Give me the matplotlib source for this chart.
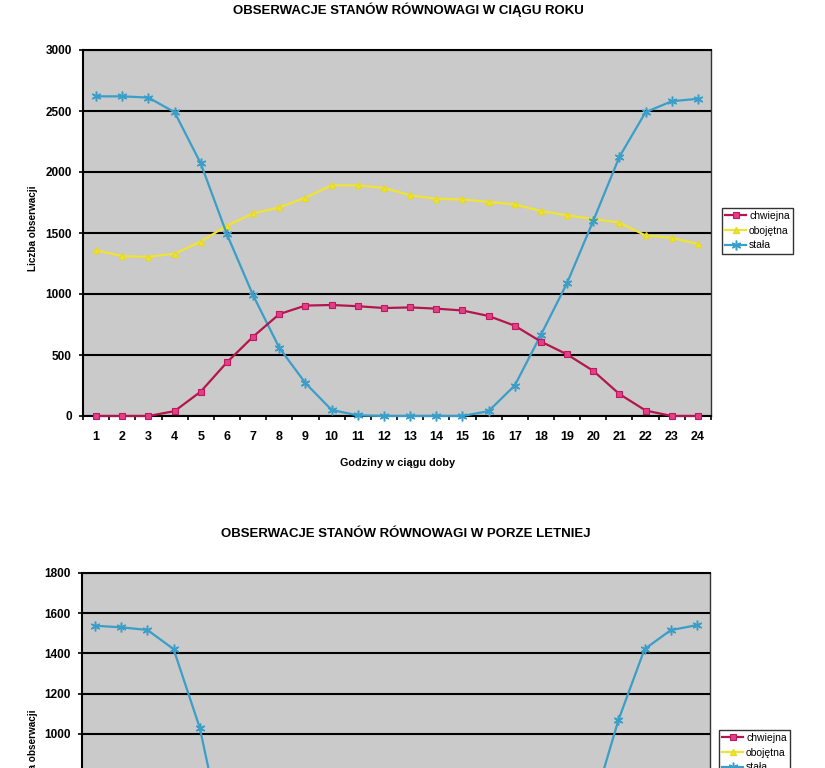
import matplotlib
matplotlib.use('Agg')
import matplotlib.pyplot as plt
import numpy as np

plt.rcParams['font.family'] = ['Liberation Sans', 'DejaVu Sans']

hours = list(range(1, 25))
hour_labels = [str(h) for h in hours]
series_names = ['chwiejna', 'obojętna', 'stała']

title_year = 'OBSERWACJE STANÓW RÓWNOWAGI W CIĄGU ROKU'
title_summer = 'OBSERWACJE STANÓW RÓWNOWAGI W PORZE LETNIEJ'
xlabel_text = 'Godziny w ciągu doby'
ylabel_text = 'Liczba obserwacji'

year_chwiejna = [0, 0, 0, 40, 200, 440, 650, 835, 905, 910, 900, 885,
                 890, 880, 865, 820, 740, 610, 505, 370, 180, 45, 0, 0]
year_obojetna = [1360, 1310, 1305, 1330, 1430, 1560, 1660, 1710, 1790, 1890, 1890, 1870,
                 1810, 1780, 1775, 1755, 1735, 1680, 1645, 1615, 1585, 1480, 1460, 1410]
year_stala = [2620, 2620, 2610, 2490, 2070, 1490, 990, 560, 270, 50, 5, 0,
              0, 0, 0, 40, 250, 665, 1090, 1600, 2125, 2490, 2580, 2600]

summer_chwiejna = [0, 0, 0, 30, 180, 430, 620, 760, 800, 800, 790, 780,
                   780, 770, 760, 730, 650, 520, 400, 250, 90, 10, 0, 0]
summer_obojetna = [320, 300, 300, 330, 420, 560, 640, 700, 760, 800, 810, 800,
                   780, 770, 760, 750, 730, 700, 660, 620, 560, 420, 360, 330]
summer_stala = [1537, 1529, 1516, 1421, 1031, 425, 60, 0, 0, 0, 0, 0,
                0, 0, 0, 0, 0, 30, 200, 630, 1069, 1421, 1515, 1540]

W, H = 825, 768
fig = plt.figure(figsize=(W / 100, H / 100), dpi=100)
fig.patch.set_facecolor('white')

RED_LINE = '#b3164c'
RED_MK = '#e0408a'
YEL = '#f0e432'
BLUE = '#3a9ec8'


def px_axes(left, right, top, bottom):
    return fig.add_axes([left / W, 1 - bottom / H, (right - left) / W, (bottom - top) / H])


def draw(ax, ch, ob, st, ymax, ystep, show_xlabels=True, ylabel_min=0):
    ax.set_facecolor('#cacaca')
    h1, = ax.plot(hours, ch, color=RED_LINE, lw=1.6, marker='s', ms=4.5,
                  mfc=RED_MK, mec='#c0185a', mew=0.8, zorder=5, clip_on=False)
    h2, = ax.plot(hours, ob, color=YEL, lw=1.6, marker='^', ms=4.5,
                  mfc=YEL, mec='#e6da20', zorder=4, clip_on=False)
    h3, = ax.plot(hours, st, color=BLUE, lw=1.6, marker=(6, 2, 0), ms=7,
                  mec=BLUE, mew=1.1, zorder=4, clip_on=False)
    ax.set_xlim(0.5, 24.5)
    ax.set_ylim(0, ymax)
    yt = np.arange(0, ymax + 1, ystep)
    ax.set_yticks(yt)
    ax.set_yticklabels([str(v) if v >= ylabel_min else '' for v in yt],
                       fontsize=8.5, fontweight='bold')
    ax.yaxis.grid(True, color='black', lw=1.5)
    ax.set_axisbelow(True)
    ax.set_xticks(hours)
    if show_xlabels:
        ax.set_xticklabels(hour_labels, fontsize=9, fontweight='bold')
    else:
        ax.set_xticklabels([])
    ax.set_xticks(np.arange(0.5, 25, 1), minor=True)
    ax.tick_params(axis='x', which='major', length=0, pad=11)
    ax.tick_params(axis='x', which='minor', length=3, width=1.2, direction='out')
    ax.tick_params(axis='y', which='major', length=3, width=1.2, direction='out', pad=5)
    for s in ['left', 'bottom', 'top']:
        ax.spines[s].set_color('black')
        ax.spines[s].set_linewidth(1.5)
    ax.spines['right'].set_color('#333333')
    ax.spines['right'].set_linewidth(1.0)
    return [h1, h2, h3]


def legend(handles, x, y):
    leg = fig.legend(handles, series_names, loc='upper left',
                     bbox_to_anchor=(x / W, 1 - y / H), frameon=True, fancybox=False,
                     edgecolor='black', fontsize=7.5, handlelength=2.0, borderpad=0.3,
                     labelspacing=0.45, handletextpad=0.3, borderaxespad=0)
    leg.get_frame().set_linewidth(1.0)
    return leg


# top chart
ax1 = px_axes(83, 711, 50, 416)
hs1 = draw(ax1, year_chwiejna, year_obojetna, year_stala, 3000, 500)
fig.text(408 / W, 1 - 10 / H, title_year, ha='center', va='center',
         fontsize=9.5, fontweight='bold')
fig.text(397 / W, 1 - 463 / H, xlabel_text, ha='center', va='center',
         fontsize=7.8, fontweight='bold')
fig.text(33 / W, 1 - 228 / H, ylabel_text, ha='center', va='center',
         rotation=90, fontsize=7.2, fontweight='bold')
legend(hs1, 722, 208)

# bottom chart (cut off by page edge)
ax2 = px_axes(82, 710, 572.7, 935.6)
hs2 = draw(ax2, summer_chwiejna, summer_obojetna, summer_stala, 1800, 200,
           show_xlabels=False, ylabel_min=1000)
fig.text(406 / W, 1 - 534 / H, title_summer, ha='center', va='center',
         fontsize=9.5, fontweight='bold')
fig.text(33 / W, 1 - 752 / H, ylabel_text, ha='center', va='center',
         rotation=90, fontsize=7.2, fontweight='bold')
legend(hs2, 719, 730)

fig.savefig('out.png', dpi=100)
